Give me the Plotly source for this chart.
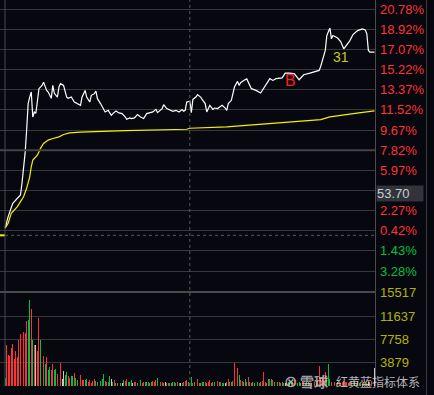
import plotly.graph_objects as go

# ---------------- data ----------------
# white price line: minute index (0..240) and % change vs previous close
price_minute = [0, 2, 5, 9, 10, 11, 13, 14, 15, 16, 17, 18, 19, 20, 22, 24, 25, 27, 28, 30,
                31, 32, 34, 35, 36, 38, 40, 41, 43, 45, 47, 49, 50, 52, 53, 55, 56, 58, 59, 60,
                62, 64, 65, 67, 69, 70, 72, 74, 76, 78, 79, 81, 82, 84, 86, 88, 90, 92, 94, 96,
                98, 99, 102, 103, 105, 107, 109, 111, 113, 115, 116, 117, 118, 120, 121, 122, 124, 125, 127, 128,
                130, 131, 133, 135, 136, 138, 141, 143, 144, 145, 147, 149, 151, 152, 153, 155, 157, 160, 163, 166,
                169, 172, 174, 176, 180, 182, 185, 188, 191, 194, 198, 201, 204, 205, 208, 209, 211, 212, 213, 216,
                218, 220, 222, 224, 226, 229, 232, 234, 235, 236, 237, 240]
price_pct = [0.66, 1.72, 2.95, 3.55, 3.71, 4.81, 7.55, 9.66, 12.13, 12.71, 13.17, 10.88, 11.34, 11.22, 13.48, 13.78, 14.08, 13.32, 13.17, 12.59,
             13.78, 13.05, 12.71, 13.63, 13.94, 13.78, 12.71, 12.59, 12.71, 12.25, 12.11, 11.95, 12.71, 13.32, 12.71, 12.25, 12.87, 13.02, 13.26, 12.56,
             12.11, 11.49, 11.34, 11.49, 11.03, 11.19, 11.43, 11.25, 11.19, 10.88, 10.67, 10.79, 10.73, 10.79, 11.10, 10.88, 10.73, 11.19, 11.28, 11.34,
             11.58, 11.28, 11.65, 12.01, 11.65, 11.56, 11.40, 11.49, 11.34, 11.56, 11.40, 11.49, 12.25, 12.32, 11.28, 12.50, 12.71, 12.93, 12.71, 12.50,
             12.11, 11.34, 11.95, 11.58, 11.70, 11.65, 11.95, 11.70, 11.49, 12.11, 12.41, 13.63, 14.15, 13.78, 14.03, 14.24, 14.38, 13.48, 13.32, 13.08,
             13.69, 14.40, 14.24, 14.40, 14.47, 14.91, 14.91, 14.85, 14.30, 14.76, 14.91, 15.00, 15.16, 15.52, 16.99, 18.36, 19.05, 18.06, 18.36, 18.13,
             17.81, 17.14, 17.54, 17.90, 18.45, 18.82, 18.97, 18.88, 18.52, 16.99, 16.83, 16.83]

# yellow average-price line
avg_minute = [0, 2, 4, 8, 10, 12, 14, 16, 17, 18, 21, 23, 25, 28, 31, 35, 38, 42, 49, 62,
              78, 118, 120, 144, 165, 185, 205, 211, 221, 231, 240]
avg_pct = [0.66, 1.12, 2.03, 2.64, 3.10, 3.55, 4.32, 5.38, 6.30, 6.91, 7.37, 7.99, 8.44, 8.75, 8.90, 9.05, 9.27, 9.41, 9.48, 9.57,
           9.63, 9.75, 9.84, 9.96, 10.18, 10.42, 10.64, 10.88, 11.10, 11.28, 11.43]

# per-minute volume (241 bars)
volume = [1280, 6830, 5160, 5000, 6270, 6990, 4500, 5830, 4880, 7660,
          8660, 7770, 9050, 8770, 10820, 11000, 14320, 12820, 7660, 6830,
          6830, 5830, 11380, 7660, 5330, 5000, 3660, 4880, 2660, 3110,
          2660, 3660, 2660, 2830, 2000, 5160, 3890, 1170, 2500, 1830,
          2280, 1670, 1280, 1670, 1670, 2165, 1280, 1000, 1440, 1830,
          1000, 1000, 1000, 1110, 720, 1000, 440, 890, 1110, 890,
          720, 1000, 890, 1110, 2000, 830, 670, 670, 1610, 1110,
          720, 1000, 440, 560, 440, 440, 560, 1000,
          830, 1165, 610, 720, 1000, 560, 720, 610, 560, 830,
          1000, 560, 720, 610, 670, 720, 560, 670, 830, 610,
          1000, 1390, 500, 720, 670, 560, 610, 560, 500, 440,
          500, 610, 720, 500, 720, 560, 440, 500, 720, 830,
          1000, 720, 500, 1440, 560, 720, 610, 1165, 560, 500,
          670, 720, 610, 500, 720, 1000, 560, 610, 720, 500,
          830, 610, 720, 500, 560, 500, 670, 1165, 720, 610,
          830,
          3880, 2500, 2940, 1830, 1000, 830, 610, 1165, 720, 1440,
          670, 560, 610, 500, 1000, 720, 560, 610, 830, 2390,
          720, 560, 1220, 1100, 1165, 1000, 720, 830, 610, 720,
          500, 610, 500, 560, 720, 610, 830, 500, 720, 1000,
          610, 500, 720, 560, 830, 610, 500, 610, 720, 560,
          500, 670, 720, 610, 830, 3330, 1280, 1550, 1000, 2390,
          1280, 3660, 1100, 720, 1440, 610, 560, 720, 610, 500,
          720, 830, 720, 610, 560, 720, 830, 720, 610, 500,
          720, 560, 610, 500, 610, 720, 560, 610, 720, 830,
          1000, 2940]

# bar colour per minute: r = up, g = down, w = flat
vol_dir = ("grrrrrrrrr" "rrrrrggrgr" "wrrgrrgrgg" "rrggrrrwwg" "grrggrgggr"
           "rrggrrrrrg" "gggggrrggw" "grrgggwg"
           "rrgggwrrgg" "grrggrggrr" "rggrrgwrrg" "gggrrgwgrr" "rgggrgrrrg"
           "ggrrrrgrgg" "rgrggwrrgg" "r"
           "rrrgrrggrr" "grggrgrgrr" "rggrgrgggr" "rggwrggrgr" "rgggrrggrg"
           "rgrggrrrrr" "gggrgrgrrg" "rrrrgrrrgr" "rggrrgrwgr" "gw")

price_tick_vals = [20.78, 18.92, 17.07, 15.22, 13.37, 11.52, 9.67, 7.82, 5.97, 4.12, 2.27, 0.42, -1.43, -3.28]
price_tick_text = ["20.78%", "18.92%", "17.07%", "15.22%", "13.37%", "11.52%", "9.67%", "7.82%",
                   "5.97%", "", "2.27%", "0.42%", "1.43%", "3.28%"]
cursor_label = "53.70"
cursor_tick = 4.12
vol_tick_vals = [15517, 11637, 7758, 3879]
vol_tick_text = ["15517", "11637", "7758", "3879"]

mark_text = ["B", "31"]
mark_minute = [185.1, 218.4]
mark_pct = [14.19, 16.35]

# ---------------- figure ----------------
W, H = 434, 395
ML, MR, MT, MB = 0, 59, 0, 9
PW = W - ML - MR          # 375
PH = H - MT - MB          # 386
vol_frac = 94 / PH
BG = "#07070f"
GRID = "#383838"
RED = "#ff3232"
GREEN = "#00c23c"
WHITE_BAR = "#c8c8c8"
cmap = {"r": RED, "g": GREEN, "w": WHITE_BAR}

n = min(len(volume), len(vol_dir))
minutes = list(range(n))
bar_colors = [cmap[c] for c in vol_dir[:n]]

fig = go.Figure()
fig.add_trace(go.Bar(x=minutes, y=volume[:n], marker=dict(color=bar_colors, line=dict(width=0)),
                     width=0.6, xaxis="x2", yaxis="y2", hoverinfo="skip"))
fig.add_trace(go.Scatter(x=avg_minute, y=avg_pct, mode="lines",
                         line=dict(color="#f2f200", width=1.2), xaxis="x", yaxis="y", hoverinfo="skip"))
fig.add_trace(go.Scatter(x=price_minute, y=price_pct, mode="lines",
                         line=dict(color="#ffffff", width=1.2), xaxis="x", yaxis="y", hoverinfo="skip"))

xr = [-3.3, 240.3]
x_left_line = -0.05

ax_common = dict(showgrid=False, zeroline=False, showticklabels=False, ticks="", fixedrange=True)
fig.update_layout(
    width=W, height=H,
    margin=dict(l=ML, r=MR, t=MT, b=MB),
    paper_bgcolor=BG, plot_bgcolor=BG,
    showlegend=False, bargap=0,
    xaxis=dict(domain=[0, 1], range=xr, anchor="y", **ax_common),
    xaxis2=dict(domain=[0, 1], range=xr, anchor="y2", matches="x", **ax_common),
    yaxis=dict(domain=[vol_frac, 1], range=[-5.21, 21.63], tickvals=price_tick_vals,
               showgrid=True, gridcolor=GRID, gridwidth=1, zeroline=False,
               showticklabels=False, ticks="", fixedrange=True),
    yaxis2=dict(domain=[0, vol_frac], range=[0, 15650], tickvals=vol_tick_vals,
                showgrid=True, gridcolor=GRID, gridwidth=1, zeroline=False,
                showticklabels=False, ticks="", fixedrange=True),
)

shapes = []
# zero (previous close) dotted line
shapes.append(dict(type="line", xref="x", yref="y", x0=x_left_line, x1=xr[1], y0=0, y1=0,
                   line=dict(color="#5a5a5a", width=1, dash="dot")))
# yellow marker left of the axis at the previous close
shapes.append(dict(type="line", xref="x", yref="y", x0=xr[0], x1=x_left_line, y0=0, y1=0,
                   line=dict(color="#f2f200", width=2)))
# slightly thicker middle line
shapes.append(dict(type="line", xref="paper", yref="y", x0=0, x1=1, y0=7.82, y1=7.82,
                   line=dict(color="#444444", width=1.8)))
# panel separator
shapes.append(dict(type="line", xref="paper", yref="paper", x0=0, x1=1, y0=vol_frac, y1=vol_frac,
                   line=dict(color="#4a4a4a", width=2.2)))
# midday dotted vertical
shapes.append(dict(type="line", xref="x", yref="paper", x0=120, x1=120, y0=0, y1=1,
                   line=dict(color="#5a5a5a", width=1, dash="dot")))
# left axis line
shapes.append(dict(type="line", xref="x", yref="paper", x0=x_left_line, x1=x_left_line, y0=0, y1=1,
                   line=dict(color="#4a4a4a", width=1)))
# right border and outer line
shapes.append(dict(type="line", xref="paper", yref="paper", x0=375.5 / PW, x1=375.5 / PW, y0=0, y1=1.03,
                   line=dict(color="#4a4a4a", width=1)))
shapes.append(dict(type="line", xref="paper", yref="paper", x0=426.5 / PW, x1=426.5 / PW, y0=-0.03, y1=1.03,
                   line=dict(color="#3a3a3a", width=1)))
fig.update_layout(shapes=shapes)

ann = []
lab_x = 378 / PW
font_fam = "Liberation Sans, Arial, sans-serif"
for v, t in zip(price_tick_vals, price_tick_text):
    if not t:
        continue
    ann.append(dict(x=lab_x, y=v, xref="paper", yref="y", text=t, showarrow=False,
                    xanchor="left", yanchor="middle",
                    font=dict(family=font_fam, size=13, color=RED if v > 0 else GREEN)))
for v, t in zip(vol_tick_vals, vol_tick_text):
    ann.append(dict(x=lab_x, y=v, xref="paper", yref="y2", text=t, showarrow=False,
                    xanchor="left", yanchor="middle",
                    font=dict(family=font_fam, size=13, color="#b4b400")))
# cursor price label
ann.append(dict(x=376 / PW, y=cursor_tick, xref="paper", yref="y", text=cursor_label, showarrow=False,
                xanchor="left", yanchor="middle", yshift=-3, align="left",
                width=46, height=15, bgcolor="#32343a", borderpad=0,
                font=dict(family=font_fam, size=13, color="#c4ccdc")))
# markers in the chart
ann.append(dict(x=mark_minute[0], y=mark_pct[0], xref="x", yref="y", text=mark_text[0], showarrow=False,
                font=dict(family=font_fam, size=16, color="#ff2020")))
ann.append(dict(x=mark_minute[1], y=mark_pct[1], xref="x", yref="y", text=mark_text[1], showarrow=False,
                font=dict(family=font_fam, size=14, color="#c8c820")))
# watermark
wm_y = (PH - 381) / PH
ann.append(dict(x=290 / PW, y=wm_y, xref="paper", yref="paper", text="⊗", showarrow=False,
                xanchor="center", yanchor="middle",
                font=dict(family="DejaVu Sans", size=16, color="rgba(210,210,210,0.8)")))
ann.append(dict(x=314 / PW, y=wm_y, xref="paper", yref="paper", text="<b>雪球</b>", showarrow=False,
                xanchor="center", yanchor="middle",
                font=dict(family="Noto Sans CJK SC", size=14, color="rgba(200,200,200,0.8)")))
ann.append(dict(x=378 / PW, y=wm_y, xref="paper", yref="paper", text="红黄蓝指标体系", showarrow=False,
                xanchor="center", yanchor="middle",
                font=dict(family="Noto Sans CJK SC", size=12, color="rgba(215,215,215,0.85)")))
fig.update_layout(annotations=ann)

fig.write_html("out.html",
               config={"displayModeBar": False, "staticPlot": True},
               post_script="document.body.style.margin='0';document.body.style.overflow='hidden';"
                           "document.body.style.background='" + BG + "';")
